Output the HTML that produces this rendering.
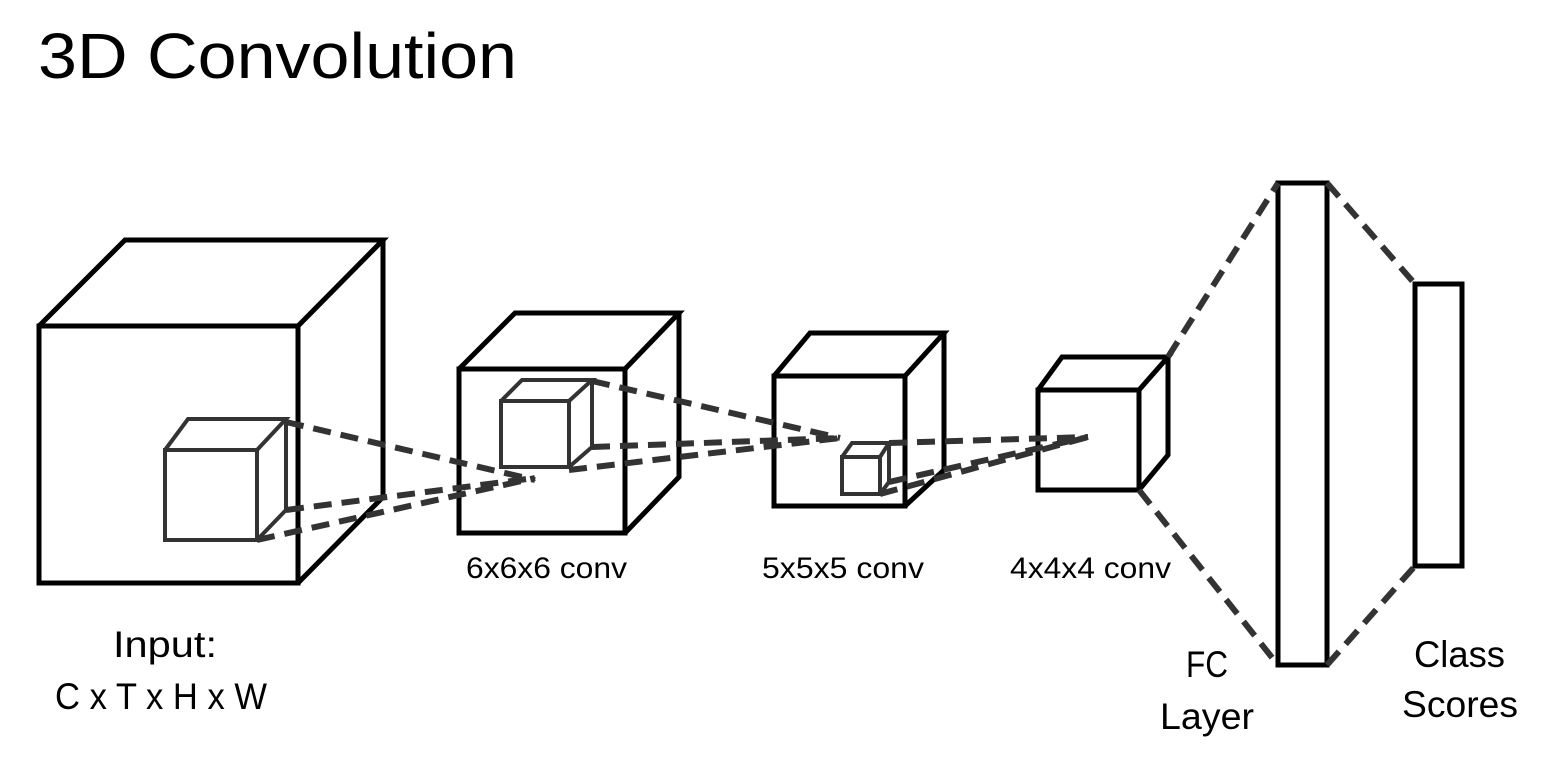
<!DOCTYPE html>
<html><head><style>body{margin:0;background:#fff}svg{display:block}</style></head>
<body>
<svg width="1558" height="770" viewBox="0 0 1558 770" xmlns="http://www.w3.org/2000/svg" font-family="Liberation Sans, sans-serif">
<text x="38" y="78" font-size="64" textLength="479" lengthAdjust="spacingAndGlyphs">3D Convolution</text>
<g fill="none" stroke="#000" stroke-width="5" stroke-linejoin="miter">
<rect x="39" y="326" width="259" height="257"/>
<path d="M39 326 L125 240 L383 240 L298 326 M383 240 L383 497 L298 583"/>
<rect x="459" y="369" width="166" height="164"/>
<path d="M459 369 L515 313 L679 313 L625 369 M679 313 L679 477 L625 533"/>
<rect x="774" y="376" width="131" height="130"/>
<path d="M774 376 L810 333 L944 333 L905 376 M944 333 L944 470 L905 506"/>
<rect x="1038" y="390" width="101" height="100"/>
<path d="M1038 390 L1062 357 L1168 357 L1139 390 M1168 357 L1168 455 L1139 490"/>
<rect x="1278" y="183" width="49" height="482"/>
<rect x="1415" y="284" width="47" height="282"/>
</g>
<g fill="none" stroke="#333" stroke-width="4">
<rect x="165" y="450" width="92" height="90"/>
<path d="M165 450 L188 419 L286 419 L257 450 M286 419 L286 510 L257 540"/>
<rect x="501" y="401" width="68" height="66"/>
<path d="M501 401 L522 380 L592 380 L569 401 M592 380 L592 447 L569 467"/>
<rect x="842" y="457" width="38" height="37"/>
<path d="M842 457 L852 443 L889 443 L880 457 M889 443 L889 482 L880 494"/>
</g>
<g fill="none" stroke="#333" stroke-width="6" stroke-dasharray="18 10">
<path d="M286 422 L535 480 M286 510 L535 478 M257 540 L535 478"/>
<path d="M592 381 L840 438 M592 447 L840 438 M569 470 L840 438"/>
<path d="M889 443 L1088 437 M889 482 L1088 437 M880 494 L1088 437"/>
<path d="M1168 357 L1278 183 M1139 490 L1278 665"/>
<path d="M1327 183 L1415 284 M1327 665 L1415 566"/>
</g>
<g font-size="30" fill="#000" lengthAdjust="spacingAndGlyphs">
<text x="466" y="578" textLength="161" lengthAdjust="spacingAndGlyphs">6x6x6 conv</text>
<text x="762" y="578" textLength="162" lengthAdjust="spacingAndGlyphs">5x5x5 conv</text>
<text x="1010" y="578" textLength="161" lengthAdjust="spacingAndGlyphs">4x4x4 conv</text>
</g>
<g font-size="37" fill="#000">
<text x="113" y="657" textLength="104" lengthAdjust="spacingAndGlyphs">Input:</text>
<text x="55" y="709" textLength="212" lengthAdjust="spacingAndGlyphs">C x T x H x W</text>
<text x="1186" y="677" textLength="42" lengthAdjust="spacingAndGlyphs">FC</text>
<text x="1160" y="729" textLength="94" lengthAdjust="spacingAndGlyphs">Layer</text>
<text x="1414" y="667" textLength="91" lengthAdjust="spacingAndGlyphs">Class</text>
<text x="1402" y="717" textLength="116" lengthAdjust="spacingAndGlyphs">Scores</text>
</g>
</svg>
</body></html>
